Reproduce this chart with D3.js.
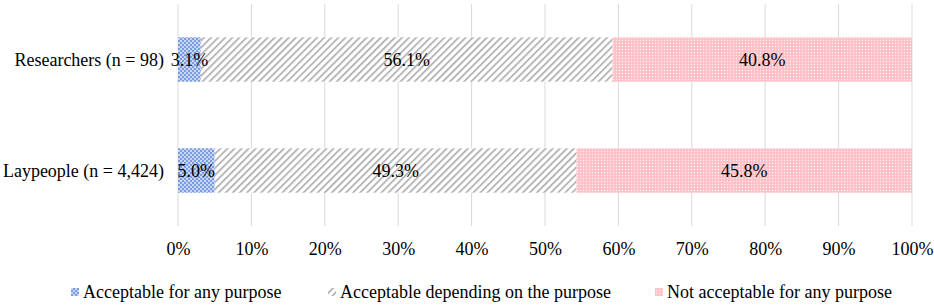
<!DOCTYPE html>
<html>
<head>
<meta charset="utf-8">
<script src="https://cdn.jsdelivr.net/npm/d3@7"></script>
<style>
    body { margin: 0; background: #fff; }
    svg text { font-family: "Liberation Serif", "Times New Roman", Times, serif; fill: #000; }
</style>
</head>
<body>
<div id="chart"></div>
<script>
// data
const groups = ["Researchers (n = 98)", "Laypeople (n = 4,424)"];
const seriesNames = ["Acceptable for any purpose", "Acceptable depending on the purpose", "Not acceptable for any purpose"];
const anyPurpose = [3.1, 5.0];
const dependingPurpose = [56.1, 49.3];
const notAcceptable = [40.8, 45.8];
const tickValues = [0, 10, 20, 30, 40, 50, 60, 70, 80, 90, 100];

const wSvg = 934, hSvg = 306;
const margin = {top: 4, right: 22, bottom: 80, left: 178};
const serif = "'Liberation Serif', 'Times New Roman', Times, serif";

const svg = d3.select("#chart").append("svg")
    .attr("width", wSvg)
    .attr("height", hSvg);

// patterns
const defs = svg.append("defs");

const pBlue = defs.append("pattern")
    .attr("id", "pat-blue").attr("patternUnits", "userSpaceOnUse")
    .attr("width", 4).attr("height", 4);
pBlue.append("rect").attr("width", 4).attr("height", 4).attr("fill", "#7a9de0");
pBlue.append("circle").attr("cx", 1).attr("cy", 1).attr("r", 0.9).attr("fill", "#eef3ff");
pBlue.append("circle").attr("cx", 3).attr("cy", 3).attr("r", 0.9).attr("fill", "#eef3ff");

const pGray = defs.append("pattern")
    .attr("id", "pat-gray").attr("patternUnits", "userSpaceOnUse")
    .attr("width", 5).attr("height", 5)
    .attr("patternTransform", "rotate(45)");
pGray.append("rect").attr("width", 5).attr("height", 5).attr("fill", "#fff");
pGray.append("rect").attr("x", 0).attr("width", 1.6).attr("height", 5).attr("fill", "#a9a9a9");

const pPink = defs.append("pattern")
    .attr("id", "pat-pink").attr("patternUnits", "userSpaceOnUse")
    .attr("width", 3).attr("height", 3);
pPink.append("rect").attr("width", 3).attr("height", 3).attr("fill", "#ffc0c8");
pPink.append("circle").attr("cx", 1.5).attr("cy", 1.5).attr("r", 0.7).attr("fill", "#fff0f2");

const fills = ["url(#pat-blue)", "url(#pat-gray)", "url(#pat-pink)"];

// scales
const x = d3.scaleLinear()
    .domain([0, 100])
    .range([margin.left, wSvg - margin.right]);

const y = d3.scaleBand()
    .domain(groups)
    .range([margin.top, hSvg - margin.bottom])
    .paddingInner(0.6)
    .paddingOuter(0.3);

// gridlines
svg.append("g").classed("grid", true).selectAll("line")
    .data(tickValues)
    .enter()
    .append("line")
        .attr("x1", d => x(d)).attr("x2", d => x(d))
        .attr("y1", margin.top).attr("y2", hSvg - margin.bottom)
        .style("stroke", "#d9d9d9")
        .style("stroke-width", 1);

// stacked data
const rows = groups.map((g, i) => ({
    group: g,
    vals: [anyPurpose[i], dependingPurpose[i], notAcceptable[i]]
}));
const segs = [];
rows.forEach(r => {
    let acc = 0;
    r.vals.forEach((v, k) => {
        segs.push({group: r.group, k: k, v: v, x0: acc, x1: acc + v});
        acc += v;
    });
});

svg.append("g").classed("bars", true).selectAll("rect")
    .data(segs)
    .enter()
    .append("rect")
        .attr("x", d => x(d.x0))
        .attr("y", d => y(d.group))
        .attr("width", d => Math.min(x(d.x1), x(100)) - x(d.x0))
        .attr("height", y.bandwidth())
        .attr("fill", d => fills[d.k]);

svg.append("g").classed("values", true).selectAll("text")
    .data(segs)
    .enter()
    .append("text")
        .attr("x", d => x((d.x0 + Math.min(d.x1, 100)) / 2))
        .attr("y", d => y(d.group) + y.bandwidth() / 2)
        .attr("dy", "0.35em")
        .attr("text-anchor", "middle")
        .attr("font-family", serif)
        .attr("font-size", 18)
        .text(d => d.v.toFixed(1) + "%");

// y labels
svg.append("g").classed("ylabels", true).selectAll("text")
    .data(groups)
    .enter()
    .append("text")
        .attr("x", margin.left - 14)
        .attr("y", d => y(d) + y.bandwidth() / 2)
        .attr("dy", "0.35em")
        .attr("text-anchor", "end")
        .attr("font-family", serif)
        .attr("font-size", 18)
        .text(d => d);

// x axis
const xAxis = d3.axisBottom(x)
    .tickValues(tickValues)
    .tickFormat(d => d + "%")
    .tickSize(0)
    .tickPadding(16);

const gx = svg.append("g")
    .attr("transform", `translate(0, ${hSvg - margin.bottom})`)
    .call(xAxis)
    .attr("font-family", serif)
    .attr("font-size", 18);
gx.select(".domain").remove();
gx.selectAll("text").attr("fill", "#000");

// legend
const legendX = [71, 328, 655];
const legend = svg.append("g").classed("legend", true).selectAll("g")
    .data(seriesNames)
    .enter()
    .append("g")
        .attr("transform", (d, i) => `translate(${legendX[i]}, 292)`);
legend.append("rect")
    .attr("x", 0).attr("y", -4)
    .attr("width", 8).attr("height", 8)
    .attr("fill", (d, i) => fills[i]);
legend.append("text")
    .attr("x", 12)
    .attr("dy", "0.35em")
    .attr("font-family", serif)
    .attr("font-size", 18)
    .text(d => d);
</script>
</body>
</html>
